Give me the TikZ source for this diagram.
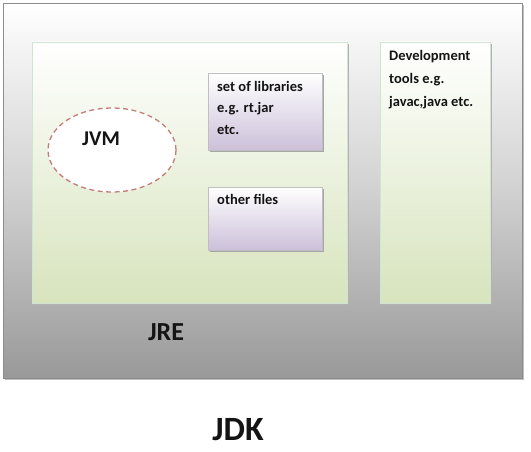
\documentclass[tikz,border=0pt]{standalone}
\usepackage{fontspec}
\setmainfont{Carlito}
\begin{document}
\begin{tikzpicture}[x=1pt,y=-1pt,
  outerbox/.style={draw=black!45,line width=0.8pt,top color=white,bottom color=black!40,middle color=black!18},
  greenbox/.style={draw=black!8!green!10!white!80!gray,line width=0.6pt,top color=white,bottom color={rgb,255:red,215;green,228;blue,189}},
  purplebox/.style={draw=black!25,line width=0.6pt,top color=white,bottom color={rgb,255:red,204;green,192;blue,218}},
  smalltext/.style={font=\bfseries\fontsize{14.5}{21.5}\selectfont,text=black!92,align=left,anchor=north west,inner sep=0pt},
  bigtext/.style={font=\bfseries,text=black!92,inner sep=0pt}
]
\useasboundingbox (0,0) rectangle (531,452);
\fill[white] (0,0) rectangle (531,452);
% outer JDK box
\fill[black!25] (5,5) rectangle (524,380);
\path[outerbox] (3,3) rectangle (522,378);
% JRE box
\fill[black!30] (34,44) rectangle (349,305);
\path[greenbox] (32,42) rectangle (347,303);
\node (jre) [bigtext,font=\bfseries\fontsize{26}{30}\selectfont] at (166,332) {JRE};
% Dev tools box
\fill[black!30] (382,44) rectangle (492,305);
\path[greenbox] (380,42) rectangle (490,303);
\node (dev) [smalltext,font=\bfseries\fontsize{14.5}{23}\selectfont] at (389,50) {Development\\tools e.g.\\javac,java etc.};
% libraries box
\fill[black!35] (210,75) rectangle (324,152);
\path[purplebox] (208,73) rectangle (322,150);
\node (lib) [smalltext] at (217,81) {set of libraries\\e.g. rt.jar\\etc.};
% other files box
\fill[black!35] (210,189) rectangle (324,252);
\path[purplebox] (208,187) rectangle (322,250);
\node (oth) [smalltext] at (217,194) {other files};
% JVM ellipse
\draw[draw={rgb,255:red,195;green,125;blue,120},dash pattern=on 5pt off 3.5pt,line width=1.3pt,fill=white] (112,150) ellipse [x radius=64,y radius=42];
\node (jvm) [bigtext,font=\bfseries\fontsize{21}{25}\selectfont] at (101,139) {JVM};
% JDK label
\node (jdk) [bigtext,font=\bfseries\fontsize{34}{40}\selectfont] at (238,430) {JDK};
\end{tikzpicture}
\end{document}
